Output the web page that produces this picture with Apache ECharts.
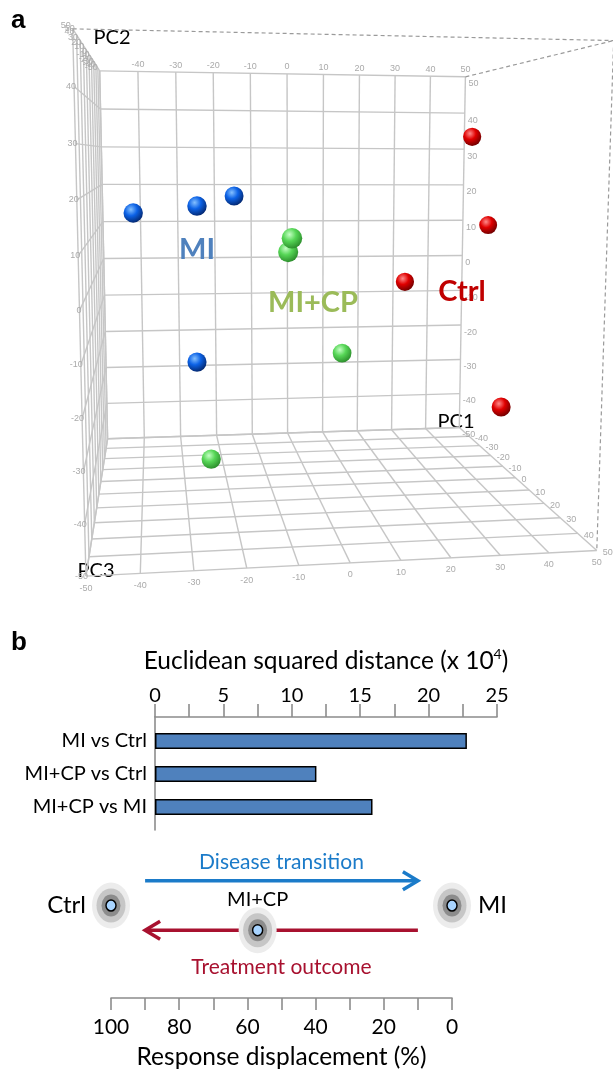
<!DOCTYPE html>
<html><head><meta charset="utf-8">
<script src="https://cdn.jsdelivr.net/npm/echarts@6/dist/echarts.min.js"></script>
<style>html,body{margin:0;padding:0;background:#fff}#c{width:613px;height:1071px}</style>
</head><body><div id="c"></div>
<script>
// ================= DATA =================
const pcTicks = [-50, -40, -30, -20, -10, 0, 10, 20, 30, 40, 50];
const groupNames = ['MI', 'MI+CP', 'Ctrl'];

// PCA scores (PC1, PC2, PC3) per group
const miPC1 = [-41.1, -26.7, -17.9, -27.1];
const miPC2 = [14.7, 16.5, 18.6, -19.5];
const miPC3 = [-5, 0, -5, 0];
const cpPC1 = [-7.5, -7.7, 6.0, -24.3];
const cpPC2 = [10.6, 7.2, -17.2, -41.2];
const cpPC3 = [20, 15, 5, 5];
const ctrlPC1 = [37.5, 41.8, 21.8, 39.4];
const ctrlPC2 = [32.6, 11.9, -1.4, -27.4];
const ctrlPC3 = [0, 0, 0, 20];

const barCategories = ['MI vs Ctrl', 'MI+CP vs Ctrl', 'MI+CP vs MI'];
const barValues = [22.8, 11.8, 15.9];
const distanceTicks = [0, 5, 10, 15, 20, 25];

const stateNames = ['Ctrl', 'MI+CP', 'MI'];
const stateDisplacement = [100, 57, 0];
const stateRow = [3.75, 2.75, 3.75];
const displacementTicks = [100, 80, 60, 40, 20, 0];
const arrowNames = ['Disease transition', 'Treatment outcome'];
const arrowFrom = [90, 10];
const arrowTo = [10, 90];
const arrowRow = [4.75, 2.75];

// ================= CAMERA (layout calibration of the drawn box) =================
const boxCalib = [
  [[-50, 50, -50], [100, 71]], [[50, 50, -50], [466, 77]],
  [[-50, -50, -50], [107, 438]], [[50, -50, -50], [459, 428]],
  [[-50, -50, 50], [87, 577]], [[50, -50, 50], [597, 550]],
  [[-50, 50, 50], [72, 29]], [[50, 50, 50], [613, 40]]
];
function solveCamera() {
  const A = [], b = [];
  boxCalib.forEach(([[X, Y, Z], [u, v]]) => {
    const x = X / 50, y = Y / 50, z = Z / 50;
    A.push([x, y, z, 1, 0, 0, 0, 0, -u * x, -u * y, -u * z]); b.push(u);
    A.push([0, 0, 0, 0, x, y, z, 1, -v * x, -v * y, -v * z]); b.push(v);
  });
  const n = 11, M = [];
  for (let i = 0; i < n; i++) M.push(new Array(n + 1).fill(0));
  for (let r = 0; r < A.length; r++) for (let i = 0; i < n; i++) {
    for (let j = 0; j < n; j++) M[i][j] += A[r][i] * A[r][j];
    M[i][n] += A[r][i] * b[r];
  }
  for (let c = 0; c < n; c++) {
    let p = c;
    for (let r = c + 1; r < n; r++) if (Math.abs(M[r][c]) > Math.abs(M[p][c])) p = r;
    const t = M[c]; M[c] = M[p]; M[p] = t;
    for (let r = 0; r < n; r++) {
      if (r === c) continue;
      const f = M[r][c] / M[c][c];
      for (let j = c; j <= n; j++) M[r][j] -= f * M[c][j];
    }
  }
  return M.map((row, i) => row[n] / row[i]);
}
const P = solveCamera();
function project(X, Y, Z) {
  const x = X / 50, y = Y / 50, z = Z / 50;
  const w = P[8] * x + P[9] * y + P[10] * z + 1;
  return [(P[0] * x + P[1] * y + P[2] * z + P[3]) / w, (P[4] * x + P[5] * y + P[6] * z + P[7]) / w];
}

// ================= BUILD =================
const lo = pcTicks[0], hi = pcTicks[pcTicks.length - 1];
const gridSegs = [];
pcTicks.forEach(t => {
  gridSegs.push([t, lo, lo, t, hi, lo, 0]);
  gridSegs.push([lo, t, lo, hi, t, lo, 0]);
  gridSegs.push([t, lo, lo, t, lo, hi, 0]);
  gridSegs.push([lo, lo, t, hi, lo, t, 0]);
  gridSegs.push([lo, t, lo, lo, t, hi, 0]);
  gridSegs.push([lo, lo, t, lo, hi, t, 0]);
});
gridSegs.push([lo, hi, hi, hi, hi, hi, 1], [hi, hi, lo, hi, hi, hi, 1], [hi, hi, hi, hi, lo, hi, 1]);

const tickKinds = [
  { dx: 0, dy: -7, align: 'center' },
  { dx: 3, dy: 7, align: 'left' },
  { dx: 2, dy: 0, align: 'right' },
  { dx: 0, dy: 12, align: 'center' },
  { dx: 6, dy: 2, align: 'left' },
  { dx: -2, dy: -3, align: 'right' }
];
const tickRows = [];
pcTicks.forEach(t => {
  if (t !== lo) tickRows.push([t, hi, lo, t, 0]);
  tickRows.push([hi, t, lo, t, 1]);
  tickRows.push([lo, t, hi, t, 2]);
  tickRows.push([t, lo, hi, t, 3]);
  if (t !== lo) tickRows.push([hi, lo, t, t, 4]);
  tickRows.push([lo, hi, t, t, 5]);
});

const sphereRows = [];
[[miPC1, miPC2, miPC3], [cpPC1, cpPC2, cpPC3], [ctrlPC1, ctrlPC2, ctrlPC3]].forEach((g, gi) => {
  g[0].forEach((_, i) => sphereRows.push([g[0][i], g[1][i], g[2][i], gi]));
});
sphereRows.sort((a, b) => a[2] - b[2]);
const sphereColors = [
  ['#84c0ff', '#0c62e6', '#03256a'],
  ['#c4ffc4', '#56d656', '#2a8a2a'],
  ['#ff8a8a', '#e00000', '#6a0000']
];

const glowLayers = [
  { size: [38, 46], color: '#ececec', border: 0 },
  { size: [29, 34], color: '#c6c6c6', border: 0 },
  { size: [19, 22], color: '#8c8c8c', border: 0 },
  { size: [10, 11], color: '#a8d4ff', border: 1.5 }
];
const stateLabelPos = ['left', 'top', 'right'];
const stateLabelDist = [6, -2, 7];
const arrowColors = ['#1b7bc9', '#a8112f'];
const arrowLabelDy = [-19, 37];

const FONT = 'Lato, "Open Sans", sans-serif';
const chart = echarts.init(document.getElementById('c'), null, { renderer: 'canvas' });
const option = {
  animation: false,
  backgroundColor: '#fff',
  grid: [
    { left: 0, top: 0, width: 613, height: 620 },
    { left: 155, top: 717, width: 342, height: 113 },
    { left: 155, top: 724.5, width: 342, height: 99 },
    { left: 111, top: 850, width: 341, height: 148 }
  ],
  xAxis: [
    { gridIndex: 0, type: 'value', min: 0, max: 613, show: false },
    { gridIndex: 1, type: 'value', position: 'top', min: 0, max: 25, interval: 2.5,
      axisLine: { show: true, onZero: false, lineStyle: { color: '#8c8c8c', width: 1.6 } },
      axisTick: { show: true, length: 13, lineStyle: { color: '#8c8c8c', width: 1.6 } },
      axisLabel: { formatter: v => distanceTicks.includes(v) ? String(v) : '', fontSize: 20, color: '#000', fontFamily: FONT, margin: 11 },
      splitLine: { show: false },
      name: '{a|Euclidean squared distance (x 10}{s|4}{a|)}', nameLocation: 'middle', nameGap: 42,
      nameTextStyle: { rich: { a: { fontSize: 24.5, fontFamily: FONT, color: '#000', lineHeight: 28 }, s: { fontSize: 14, fontFamily: FONT, color: '#000', verticalAlign: 'top', lineHeight: 15 } } } },
    { gridIndex: 2, type: 'value', min: 0, max: 25, show: false },
    { gridIndex: 3, type: 'value', inverse: true, min: 0, max: 100, interval: 10,
      axisLine: { show: true, onZero: false, lineStyle: { color: '#8c8c8c', width: 1.6 } },
      axisTick: { show: true, length: 12, lineStyle: { color: '#8c8c8c', width: 1.6 } },
      axisLabel: { formatter: v => displacementTicks.includes(v) ? String(v) : '', fontSize: 21, color: '#000', fontFamily: FONT, margin: 19 },
      splitLine: { show: false },
      name: 'Response displacement (%)', nameLocation: 'middle', nameGap: 47,
      nameTextStyle: { fontSize: 24.5, fontFamily: FONT, color: '#000' } }
  ],
  yAxis: [
    { gridIndex: 0, type: 'value', min: 0, max: 620, inverse: true, show: false },
    { gridIndex: 1, type: 'value', min: 0, max: 1,
      axisLine: { show: true, onZero: false, lineStyle: { color: '#8c8c8c', width: 1.6 } },
      axisTick: { show: false }, axisLabel: { show: false }, splitLine: { show: false } },
    { gridIndex: 2, type: 'category', inverse: true, data: barCategories,
      axisLine: { show: false }, axisTick: { show: false },
      axisLabel: { fontSize: 20, color: '#000', fontFamily: FONT, margin: 8 } },
    { gridIndex: 3, type: 'value', min: 0, max: 6, show: false }
  ],
  graphic: [
    { type: 'text', left: 11, top: 8, style: { text: 'a', font: 'bold 26px "Liberation Sans", Arial', fill: '#000' } },
    { type: 'text', left: 11, top: 630, style: { text: 'b', font: 'bold 26px "Liberation Sans", Arial', fill: '#000' } },
    { type: 'text', x: 112, y: 38, style: { text: 'PC2', font: '20px ' + FONT, fill: '#000', align: 'center', verticalAlign: 'middle' } },
    { type: 'text', x: 456, y: 422, style: { text: 'PC1', font: '20px ' + FONT, fill: '#000', align: 'center', verticalAlign: 'middle' } },
    { type: 'text', x: 96, y: 571, style: { text: 'PC3', font: '20px ' + FONT, fill: '#000', align: 'center', verticalAlign: 'middle' } },
    { type: 'text', x: 197, y: 250, z: 10, style: { text: groupNames[0], font: 'bold 29px ' + FONT, fill: '#4f81bd', align: 'center', verticalAlign: 'middle' } },
    { type: 'text', x: 313, y: 303, z: 10, style: { text: groupNames[1], font: 'bold 29px ' + FONT, fill: '#9bbb59', align: 'center', verticalAlign: 'middle' } },
    { type: 'text', x: 462, y: 292, z: 10, style: { text: groupNames[2], font: 'bold 29px ' + FONT, fill: '#c00000', align: 'center', verticalAlign: 'middle' } }
  ],
  series: [
    { type: 'custom', xAxisIndex: 0, yAxisIndex: 0, silent: true, z: 1,
      data: gridSegs,
      renderItem: (params, api) => {
        const a = api.coord(project(api.value(0), api.value(1), api.value(2)));
        const b = api.coord(project(api.value(3), api.value(4), api.value(5)));
        const dashed = api.value(6) === 1;
        return { type: 'line', shape: { x1: a[0], y1: a[1], x2: b[0], y2: b[1] },
          style: { stroke: dashed ? '#9a9a9a' : '#c6c6c6', lineWidth: dashed ? 1.2 : 1.4, lineDash: dashed ? [4, 3] : null } };
      } },
    { type: 'custom', xAxisIndex: 0, yAxisIndex: 0, silent: true, z: 2,
      data: tickRows,
      renderItem: (params, api) => {
        const k = tickKinds[api.value(4)];
        const c = api.coord(project(api.value(0), api.value(1), api.value(2)));
        return { type: 'text', x: c[0] + k.dx, y: c[1] + k.dy,
          style: { text: String(api.value(3)), fill: '#aaaaaa', font: '9px "Liberation Sans", Arial', align: k.align, verticalAlign: 'middle' } };
      } },
    { type: 'custom', xAxisIndex: 0, yAxisIndex: 0, silent: true, z: 5,
      data: sphereRows,
      renderItem: (params, api) => {
        const X = api.value(0), Y = api.value(1), Z = api.value(2), g = api.value(3);
        const s = project(X, Y, Z), s2 = project(X + 1, Y, Z);
        const scale = Math.hypot(s2[0] - s[0], s2[1] - s[1]);
        const c = api.coord(s);
        const col = sphereColors[g];
        return { type: 'circle', shape: { cx: c[0], cy: c[1], r: 2.2 * scale },
          style: { fill: new echarts.graphic.RadialGradient(0.38, 0.32, 0.72, [
            { offset: 0, color: col[0] }, { offset: 0.45, color: col[1] }, { offset: 1, color: col[2] }]) } };
      } },
    { type: 'bar', xAxisIndex: 2, yAxisIndex: 2, data: barValues, barWidth: 16, silent: true,
      itemStyle: { color: '#4f81bd', borderColor: '#000', borderWidth: 1.5 } },
    { type: 'custom', xAxisIndex: 3, yAxisIndex: 3, silent: true, z: 2,
      data: arrowFrom.map((f, i) => [f, arrowTo[i], arrowRow[i]]),
      renderItem: (params, api) => {
        const i = params.dataIndex;
        const a = api.coord([api.value(0), api.value(2)]);
        const b = api.coord([api.value(1), api.value(2)]);
        const dir = Math.sign(b[0] - a[0]);
        const col = arrowColors[i];
        return { type: 'group', children: [
          { type: 'line', shape: { x1: a[0], y1: a[1], x2: b[0] - dir, y2: b[1] }, style: { stroke: col, lineWidth: 3.5 } },
          { type: 'polyline', shape: { points: [[b[0] - dir * 15, b[1] - 9], [b[0], b[1]], [b[0] - dir * 15, b[1] + 9]] }, style: { stroke: col, lineWidth: 3.5, fill: null } },
          { type: 'text', x: (a[0] + b[0]) / 2, y: a[1] + arrowLabelDy[i], style: { text: arrowNames[i], fill: col, font: '21px ' + FONT, align: 'center', verticalAlign: 'middle' } }
        ] };
      } }
  ].concat(glowLayers.map((L, li) => ({
    type: 'scatter', xAxisIndex: 3, yAxisIndex: 3, silent: true, z: 3 + li,
    symbol: 'circle', symbolSize: L.size,
    itemStyle: { color: L.color, opacity: 1, borderColor: '#000', borderWidth: L.border },
    data: stateDisplacement.map((d, i) => ({ value: [d, stateRow[i]],
      label: li === 0 ? { show: true, formatter: stateNames[i], position: stateLabelPos[i], distance: stateLabelDist[i],
        fontSize: i === 1 ? 20 : 24, fontFamily: FONT, color: '#000' } : { show: false } }))
  })))
};
chart.setOption(option);
</script></body></html>
